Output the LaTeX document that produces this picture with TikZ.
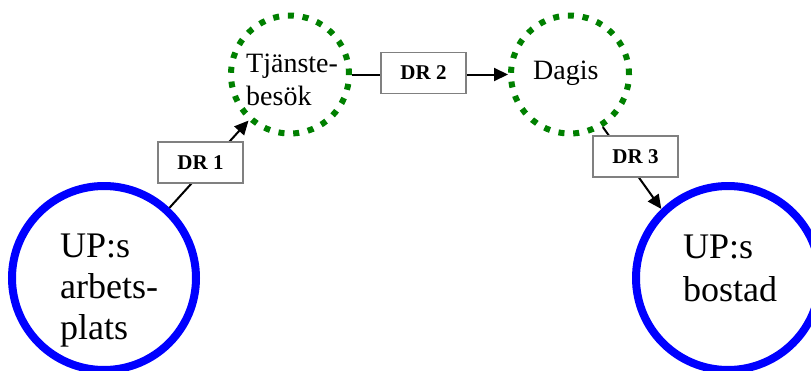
\documentclass[tikz,border=0pt]{standalone}
\usepackage{fontspec}
\setmainfont{Liberation Serif}
\usetikzlibrary{arrows.meta}
\definecolor{dgreen}{RGB}{0,128,0}
\definecolor{boxgray}{RGB}{128,128,128}
\begin{document}
\begin{tikzpicture}[x=1pt,y=-1pt,
  bigcirc/.style={circle,draw=blue,line width=8pt,minimum size=184pt,inner sep=0pt},
  smallcirc/.style={circle,draw=dgreen,line width=6pt,dash pattern=on 6pt off 8.8pt,minimum size=118pt,inner sep=0pt},
  drbox/.style={draw=boxgray,line width=1.5pt,fill=white,minimum width=85pt,minimum height=41pt,inner sep=0pt,font=\fontsize{21}{24}\selectfont\bfseries},
  conn/.style={line width=2pt,-{Triangle[length=14pt,width=13pt]}},
  bigtext/.style={inner sep=0pt,align=left,anchor=north west},
  smalltext/.style={inner sep=0pt,align=left}]
\useasboundingbox (0,0) rectangle (811,370);
\clip (0,0) rectangle (811,370);
% circles
\node[bigcirc] (up1) at (104,278) {};
\node[bigcirc] (home) at (728,278) {};
\node[smallcirc] (tj) at (290,74.5) {};
\node[smallcirc] (dagis) at (570,74.5) {};
% texts
\node[bigtext,font=\fontsize{36}{41}\selectfont] (up1t) at (60,234) {UP:s\\arbets-\\plats};
\node[bigtext,font=\fontsize{36}{43}\selectfont] (homet) at (683,235) {UP:s\\bostad};
\node[smalltext,anchor=north west,font=\fontsize{28}{33}\selectfont] (tjt) at (246,53.5) {Tjänste-\\besök};
\node[smalltext,anchor=base west,font=\fontsize{28}{33}\selectfont] (dagist) at (533,79) {Dagis};
% connectors
\draw[conn] (up1.47) -- (tj.228);
\draw[conn] (tj.east) -- (dagis.west);
\draw[conn] (dagis.-58) -- (home.134);
% labels
\node[drbox] (dr1) at (200.5,162.5) {DR 1};
\node[drbox] (dr2) at (423.5,73) {DR 2};
\node[drbox] (dr3) at (635.5,156.5) {DR 3};
\end{tikzpicture}
\end{document}
